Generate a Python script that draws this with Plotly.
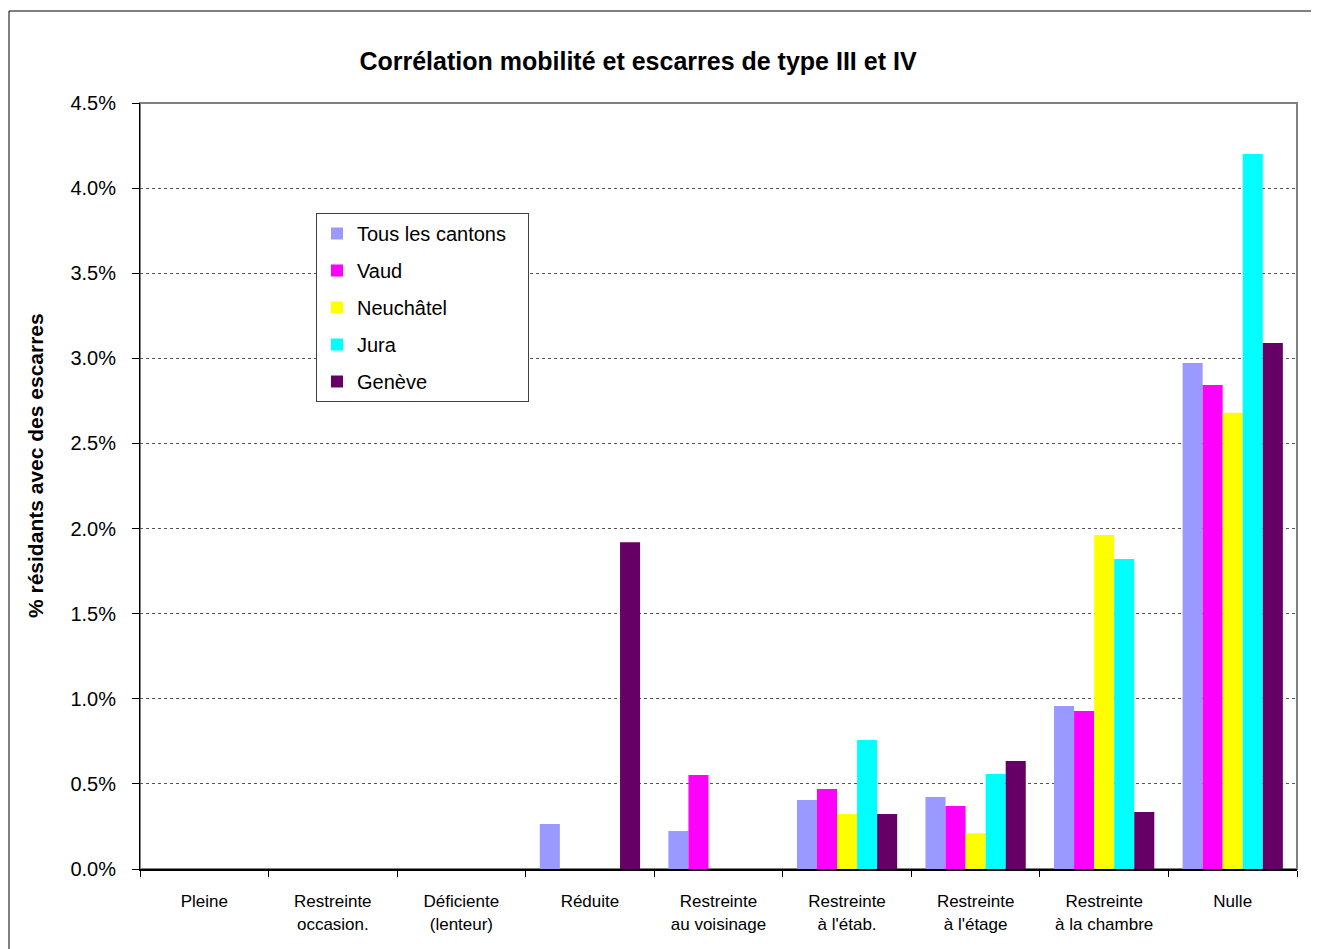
import plotly.graph_objects as go

categories = ["Pleine", "Restreinte<br>occasion.", "Déficiente<br>(lenteur)", "Réduite",
              "Restreinte<br>au voisinage", "Restreinte<br>à l'étab.", "Restreinte<br>à l'étage",
              "Restreinte<br>à la chambre", "Nulle"]
series_names = ["Tous les cantons", "Vaud", "Neuchâtel", "Jura", "Genève"]
tous = [0, 0, 0, 0.264, 0.223, 0.405, 0.423, 0.958, 2.973]
vaud = [0, 0, 0, 0, 0.552, 0.470, 0.370, 0.928, 2.844]
neuchatel = [0, 0, 0, 0, 0, 0.323, 0.210, 1.962, 2.680]
jura = [0, 0, 0, 0, 0, 0.758, 0.558, 1.821, 4.200]
geneve = [0, 0, 0, 1.920, 0, 0.323, 0.635, 0.335, 3.090]
colors = ["#9999FF", "#FF00FF", "#FFFF00", "#00FFFF", "#660066"]
yticks = [0, 0.5, 1.0, 1.5, 2.0, 2.5, 3.0, 3.5, 4.0, 4.5]

font = "Liberation Sans, Arial, sans-serif"
fig = go.Figure()
for i, (name, vals) in enumerate(zip(series_names, [tous, vaud, neuchatel, jura, geneve])):
    label = name + "\u00a0" * 3 if i == 0 else name
    fig.add_trace(go.Bar(x=categories, y=vals, name=label, marker_color=colors[i],
                         marker_line_width=0, legendgroup=name))

OFF = 8  # page body margin
W, H = 1319 - OFF, 949 - OFF
L, R, T, B = 140 - OFF, 1297 - OFF, 103 - OFF, 869 - OFF
pw, ph = R - L, B - T

def px_x(p):
    return (p - OFF - L) / pw

def px_y(p):
    return (B - (p - OFF)) / ph

fig.update_layout(
    width=W, height=H,
    margin=dict(l=L, r=W - R, t=T, b=H - B, autoexpand=False),
    paper_bgcolor="white", plot_bgcolor="white",
    barmode="group", bargap=0.22, bargroupgap=0,
    font=dict(family=font, size=17, color="black"),
    title=dict(text="<b>Corrélation mobilité et escarres de type III et IV</b>",
               x=(638 - OFF) / W, xanchor="center", y=1 - (61 - OFF) / H, yanchor="middle",
               font=dict(size=25, family=font, color="black")),
    legend=dict(x=px_x(316), y=px_y(213), xanchor="left", yanchor="top",
                bgcolor="white", bordercolor="#404040", borderwidth=1,
                font=dict(size=20, family=font), tracegroupgap=8,
                traceorder="grouped"),
    showlegend=True,
)
fig.update_xaxes(showline=True, linecolor="black", linewidth=2,
                 ticks="outside", tickson="boundaries", ticklen=6, tickcolor="black",
                 tickfont=dict(size=17), showgrid=False, ticklabelstandoff=16)
fig.update_yaxes(range=[0, 4.5], tickvals=yticks, ticktext=[f"{v:.1f}%" for v in yticks],
                 showline=True, linecolor="black", linewidth=1,
                 ticks="outside", ticklen=7, tickcolor="black",
                 showgrid=True, gridcolor="#555555", griddash="dot", gridwidth=1,
                 zeroline=False, tickfont=dict(size=20), ticklabelstandoff=12)

# plot-area border (grey) and outer chart border
fig.add_shape(type="rect", xref="paper", yref="paper", x0=0, y0=0, x1=1, y1=1,
              line=dict(color="#808080", width=2), layer="below")
fig.add_shape(type="rect", xref="paper", yref="paper",
              x0=px_x(9), y0=px_y(980), x1=px_x(1360), y1=px_y(11),
              line=dict(color="black", width=1))
fig.add_annotation(text="<b>% résidants avec des escarres</b>", textangle=-90,
                   xref="paper", yref="paper", x=px_x(35), y=px_y(466),
                   xanchor="center", yanchor="middle", showarrow=False,
                   font=dict(size=21, family=font, color="black"))

fig.write_html("out.html")
